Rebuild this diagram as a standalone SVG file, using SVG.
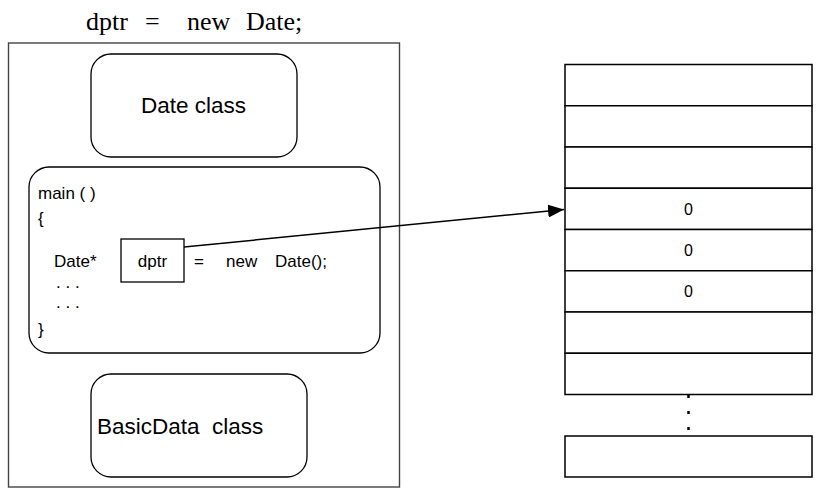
<svg xmlns="http://www.w3.org/2000/svg" width="817" height="493" viewBox="0 0 817 493">
<style>
  .box { fill: #fff; stroke: #000; stroke-width: 1.3; }
  .frame { fill: #fff; stroke: #444; stroke-width: 1.4; }
  .cell { fill: #fff; stroke: #000; stroke-width: 1.5; }
  .sans { font-family: "Liberation Sans", Arial, sans-serif; fill: #000; }
  .code { font-size: 17px; }
  .cls { font-size: 22.5px; }
  .num { font-size: 16px; text-anchor: middle; }
  .title { font-family: "Liberation Serif", "Times New Roman", serif; font-size: 26px; fill: #000; }
  .conn { stroke: #000; stroke-width: 1.5; fill: none; }
</style>
<defs>
  <marker id="arrow" markerWidth="16" markerHeight="13" refX="16" refY="6.5" orient="auto" markerUnits="userSpaceOnUse">
    <path d="M0,0 L16,6.5 L0,13 Z" fill="#000"/>
  </marker>
</defs>
<rect width="817" height="493" fill="#fff"/>
<g id="title">
  <text class="title" x="86" y="30">dptr</text>
  <text class="title" x="145" y="30">=</text>
  <text class="title" x="187" y="30">new</text>
  <text class="title" x="246" y="30">Date;</text>
</g>
<g id="program">
  <rect class="frame" x="8.5" y="43" width="391" height="444"/>
</g>
<g id="date-class">
  <rect class="box" x="91" y="54" width="206" height="103" rx="20" ry="20"/>
  <text class="sans cls" x="193.5" y="113" text-anchor="middle">Date class</text>
</g>
<g id="main">
  <rect class="box" x="29" y="167" width="351" height="186" rx="20" ry="20"/>
  <text class="sans code" x="38" y="199">main ( )</text>
  <text class="sans code" x="38" y="224">{</text>
  <text class="sans code" x="54" y="267">Date*</text>
  <text class="sans code" x="194" y="267">=</text>
  <text class="sans code" x="226" y="267">new</text>
  <text class="sans code" x="275" y="267">Date();</text>
  <text class="sans code" x="56" y="288" xml:space="preserve">. . .</text>
  <text class="sans code" x="56" y="308" xml:space="preserve">. . .</text>
  <text class="sans code" x="38" y="335">}</text>
</g>
<g id="dptr">
  <rect class="box" x="121" y="239" width="63" height="43"/>
  <text class="sans code" x="152.5" y="267" text-anchor="middle">dptr</text>
</g>
<g id="basicdata-class">
  <rect class="box" x="91" y="374" width="216" height="103" rx="20" ry="20"/>
  <text class="sans cls" x="97" y="434" xml:space="preserve">BasicData  class</text>
</g>
<g id="memory">
  <rect class="cell" x="565" y="64.5" width="247" height="41.25"/>
  <rect class="cell" x="565" y="105.75" width="247" height="41.25"/>
  <rect class="cell" x="565" y="147" width="247" height="41.25"/>
  <rect class="cell" x="565" y="188.25" width="247" height="41.25"/>
  <rect class="cell" x="565" y="229.5" width="247" height="41.25"/>
  <rect class="cell" x="565" y="270.75" width="247" height="41.25"/>
  <rect class="cell" x="565" y="312" width="247" height="41.25"/>
  <rect class="cell" x="565" y="353.25" width="247" height="41.25"/>
  <rect class="cell" x="565" y="436" width="247" height="41"/>
  <text class="sans num" x="688.5" y="215">0</text>
  <text class="sans num" x="688.5" y="256">0</text>
  <text class="sans num" x="688.5" y="297">0</text>
  <line x1="688.5" y1="395" x2="688.5" y2="433" stroke="#000" stroke-width="2.5" stroke-dasharray="3,13"/>
</g>
<g id="connectors">
  <line class="conn" x1="184" y1="247" x2="564" y2="209.5" marker-end="url(#arrow)"/>
</g>
</svg>
